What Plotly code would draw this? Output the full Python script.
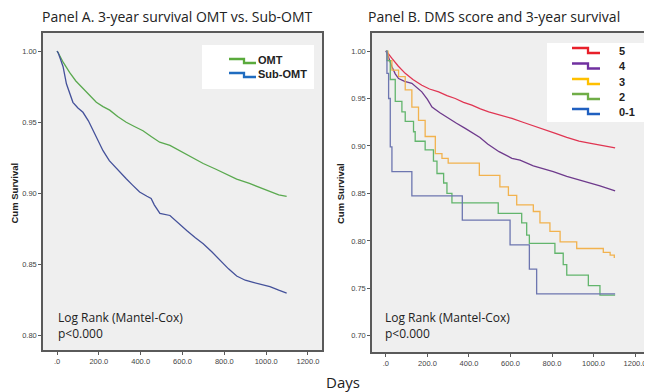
import plotly.graph_objects as go

# window is 652x392; page body has an 8px margin, so the figure is drawn 8px in from the top-left
WIN_W, WIN_H = 652, 392
OFF = 8
W, H = WIN_W - OFF, WIN_H - OFF

# ---------------- Panel A data ----------------
omt_days = [0, 5, 30, 60, 90, 124, 160, 188, 220, 252, 290, 331, 370, 411, 450, 491, 540, 602, 650, 699,
            760, 800, 859, 920, 970, 1018, 1060, 1098]
omt_surv = [1.0, 0.999, 0.992, 0.985, 0.979, 0.974, 0.968, 0.964, 0.961, 0.9585, 0.954, 0.950, 0.947, 0.944,
            0.940, 0.936, 0.9338, 0.929, 0.925, 0.921, 0.917, 0.914, 0.910, 0.907, 0.904, 0.901, 0.899, 0.898]

sub_days = [0, 5, 15, 29, 45, 60, 76, 100, 124, 150, 172, 200, 220, 250, 284, 331, 360, 395, 430, 450, 465,
            492, 540, 580, 620, 660, 699, 740, 779, 820, 859, 900, 938, 980, 1018, 1060, 1098]
sub_surv = [1.0, 0.999, 0.995, 0.989, 0.977, 0.970, 0.964, 0.960, 0.957, 0.951, 0.9444, 0.937, 0.930, 0.923,
            0.9174, 0.9103, 0.906, 0.901, 0.898, 0.8965, 0.892, 0.886, 0.8845, 0.879, 0.874, 0.869, 0.8646,
            0.859, 0.853, 0.847, 0.842, 0.839, 0.8375, 0.836, 0.8345, 0.832, 0.830]

# ---------------- Panel B data ----------------
s5_days = [0, 5, 30, 60, 93, 130, 173, 210, 254, 294, 334, 374, 414, 455, 495, 549, 607, 660, 710, 760, 820,
           871, 930, 980, 1031, 1070, 1104]
s5_surv = [1.0, 0.999, 0.992, 0.984, 0.9765, 0.970, 0.964, 0.960, 0.957, 0.953, 0.950, 0.946, 0.943, 0.939,
           0.936, 0.933, 0.929, 0.925, 0.921, 0.917, 0.913, 0.909, 0.905, 0.903, 0.901, 0.899, 0.898]

s4_days = [0, 10, 29, 45, 61, 90, 125, 150, 173, 200, 222, 260, 302, 340, 382, 415, 453, 490, 545, 607, 646,
           710, 806, 871, 967, 1031, 1104]
s4_surv = [1.0, 0.995, 0.9835, 0.976, 0.971, 0.968, 0.966, 0.961, 0.957, 0.949, 0.941, 0.935, 0.929, 0.924,
           0.9186, 0.914, 0.909, 0.902, 0.894, 0.887, 0.885, 0.879, 0.873, 0.868, 0.8624, 0.858, 0.8526]

s3_days = [0, 10, 29, 61, 93, 125, 157, 189, 238, 270, 300, 450, 549, 590, 630, 710, 742, 790, 839, 919,
           1047, 1080, 1100]
s3_surv = [1.0, 0.99, 0.98, 0.973, 0.959, 0.941, 0.927, 0.91, 0.892, 0.887, 0.882, 0.869, 0.857, 0.848,
           0.838, 0.831, 0.819, 0.81, 0.799, 0.792, 0.788, 0.785, 0.782]

s2_days = [0, 5, 21, 45, 77, 93, 133, 141, 189, 229, 246, 278, 294, 318, 541, 654, 678, 691, 814, 854, 871,
           975, 1031, 1104]
s2_surv = [1.0, 0.99, 0.97, 0.947, 0.936, 0.926, 0.915, 0.905, 0.896, 0.884, 0.871, 0.861, 0.85, 0.84,
           0.829, 0.819, 0.806, 0.7975, 0.787, 0.775, 0.764, 0.753, 0.743, 0.743]

s01_days = [0, 5, 13, 21, 29, 125, 368, 598, 691, 726, 1104]
s01_surv = [1.0, 0.9765, 0.950, 0.899, 0.873, 0.8474, 0.822, 0.7958, 0.7702, 0.7442, 0.7442]

x_tickvals = [0, 200, 400, 600, 800, 1000, 1200]
x_ticktext = [".0", "200.0", "400.0", "600.0", "800.0", "1000.0", "1200.0"]
yA_tickvals = [0.80, 0.85, 0.90, 0.95, 1.00]
yB_tickvals = [0.70, 0.75, 0.80, 0.85, 0.90, 0.95, 1.00]


def px(x):
    return (x - OFF) / W


def py(y):
    return 1 - (y - OFF) / H


fig = go.Figure()

curve_specs = [
    (omt_days, omt_surv, "#5aa94f", "linear", "x", "y"),
    (sub_days, sub_surv, "#44519a", "linear", "x", "y"),
    (s5_days, s5_surv, "#e03552", "linear", "x2", "y2"),
    (s4_days, s4_surv, "#6e3a8c", "linear", "x2", "y2"),
    (s3_days, s3_surv, "#f2b24e", "hv", "x2", "y2"),
    (s2_days, s2_surv, "#62b56c", "hv", "x2", "y2"),
    (s01_days, s01_surv, "#6d76b0", "hv", "x2", "y2"),
]
for xs, ys, col, shp, xa, ya in curve_specs:
    fig.add_trace(go.Scatter(x=xs, y=ys, mode="lines", line=dict(color=col, width=1.3, shape=shp),
                             xaxis=xa, yaxis=ya, showlegend=False, hoverinfo="skip"))

tickfont = dict(family="Liberation Sans", size=7.5, color="#444")
axis_common = dict(showline=True, linecolor="#5a5a5a", linewidth=1.5, mirror=True, ticks="outside",
                   ticklen=3, tickcolor="#5a5a5a", showgrid=False, zeroline=False, tickfont=tickfont)

fig.update_layout(
    width=W, height=H, margin=dict(l=0, r=0, t=0, b=0, autoexpand=False),
    paper_bgcolor="white", plot_bgcolor="#efefef", showlegend=False,
    xaxis=dict(domain=[px(43), px(322)], range=[-67, 1267], tickvals=x_tickvals, ticktext=x_ticktext,
               anchor="y", **axis_common),
    yaxis=dict(domain=[py(350), py(33)], range=[0.790, 1.0127], tickvals=yA_tickvals,
               tickformat=".2f", anchor="x", **axis_common),
    xaxis2=dict(domain=[px(372), px(650)], range=[-67, 1272], tickvals=x_tickvals, ticktext=x_ticktext,
                anchor="y2", **axis_common),
    yaxis2=dict(domain=[py(352), py(33)], range=[0.683, 1.019], tickvals=yB_tickvals,
                tickformat=".2f", anchor="x2", **axis_common),
)

shapes = []
annotations = []

title_font = dict(family="Open Sans", size=14, color="#222")
annotations.append(dict(text="Panel A. 3-year survival OMT vs. Sub-OMT", x=px(177), y=py(16.5), xref="paper",
                        yref="paper", showarrow=False, font=title_font, xanchor="center", yanchor="middle",
                        borderpad=0))
annotations.append(dict(text="Panel B. DMS score and 3-year survival", x=px(494), y=py(16.5), xref="paper",
                        yref="paper", showarrow=False, font=title_font, xanchor="center", yanchor="middle",
                        borderpad=0))

lab_font = dict(family="Liberation Sans", size=9.5, color="#222")
for xx in (14.5, 341):
    annotations.append(dict(text="<b>Cum Survival</b>", x=px(xx), y=py(193), xref="paper", yref="paper",
                            showarrow=False, font=lab_font, textangle=-90, xanchor="center", yanchor="middle",
                            borderpad=0))

lr_font = dict(family="Open Sans", size=12, color="#222")
for xx in (56, 383):
    annotations.append(dict(text="Log Rank (Mantel-Cox)", x=px(xx), y=py(317), xref="paper", yref="paper",
                            showarrow=False, font=lr_font, xanchor="left", yanchor="middle"))
    annotations.append(dict(text="p<0.000", x=px(xx), y=py(333), xref="paper", yref="paper",
                            showarrow=False, font=lr_font, xanchor="left", yanchor="middle"))

annotations.append(dict(text="Days", x=px(343), y=py(382), xref="paper", yref="paper", showarrow=False,
                        font=dict(family="Open Sans", size=15, color="#222"), xanchor="center",
                        yanchor="middle", borderpad=0))

# legend boxes
shapes.append(dict(type="rect", xref="paper", yref="paper", x0=px(202), x1=px(314), y0=py(89), y1=py(45),
                   fillcolor="white", line=dict(width=0)))
shapes.append(dict(type="rect", xref="paper", yref="paper", x0=px(547), x1=px(645), y0=py(122), y1=py(43),
                   fillcolor="white", line=dict(width=0)))


def step_glyph(x0, xm, x1, ytop, ybot, color):
    path = "M {} {} L {} {} L {} {} L {} {}".format(px(x0), py(ytop), px(xm), py(ytop), px(xm), py(ybot),
                                                  px(x1), py(ybot))
    return dict(type="path", xref="paper", yref="paper", path=path, line=dict(color=color, width=2.3))


leg_font = dict(family="Liberation Sans", size=11, color="#222")
legA = [("OMT", "#5aaa3c", 61), ("Sub-OMT", "#1f6cc0", 75)]
for name, col, yc in legA:
    shapes.append(step_glyph(229, 244, 256, yc - 2, yc + 2, col))
    annotations.append(dict(text="<b>" + name + "</b>", x=px(256), y=py(yc - 1), xref="paper", yref="paper",
                            showarrow=False, font=leg_font, xanchor="left", yanchor="middle"))

legB = [("5", "#e8202a", 50.5), ("4", "#7030a0", 66), ("3", "#ffc000", 81.5), ("2", "#70ad47", 96.5),
        ("0-1", "#2060c0", 111.5)]
for name, col, yc in legB:
    shapes.append(step_glyph(572, 588, 600, yc - 2.5, yc + 2.5, col))
    annotations.append(dict(text="<b>" + name + "</b>", x=px(617), y=py(yc), xref="paper", yref="paper",
                            showarrow=False, font=dict(family="Liberation Sans", size=11, color="#222"),
                            xanchor="left", yanchor="middle"))

fig.update_layout(shapes=shapes, annotations=annotations)
fig.write_html("out.html")
